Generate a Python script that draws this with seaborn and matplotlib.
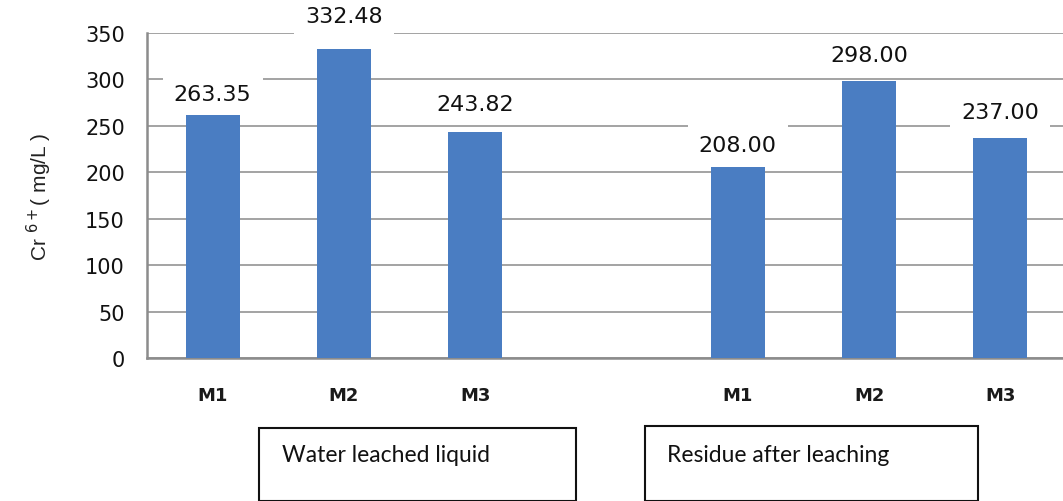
import matplotlib
matplotlib.use("Agg")
import matplotlib.pyplot as plt
from matplotlib.patches import Rectangle
import seaborn as sns
import pandas as pd

# Cr(VI) concentration per sample, for the leachate and for the residue
groups = ["Water leached liquid", "Residue after leaching"]
samples = ["M1", "M2", "M3"]
water_values = [263.35, 332.48, 243.82]
residue_values = [208.00, 298.00, 237.00]
y_ticks = [0, 50, 100, 150, 200, 250, 300, 350]

# vertical gap (points) between each bar top and the centre of its value label
label_gaps = [14, 24, 20, 14, 19, 19]

sns.set_style("white")
plt.rcParams["font.family"] = ["DejaVu Sans"]

rows = []
for g, vals in zip(groups, [water_values, residue_values]):
    for s, v in zip(samples, vals):
        rows.append({"slot": f"{g} {s}", "sample": s, "value": v})
df = pd.DataFrame(rows)

# one empty slot separates the two groups on the category axis
order = [f"{groups[0]} {s}" for s in samples] + ["gap"] + [f"{groups[1]} {s}" for s in samples]
tick_labels = samples + [""] + samples

fig = plt.figure(figsize=(10.63, 5.02), dpi=100)
ax = fig.add_axes([147 / 1063, 143 / 502, 919 / 1063, 325 / 502])

sns.barplot(data=df, x="slot", y="value", order=order, color="#4A7DC2",
            width=0.41, saturation=1, linewidth=0, edgecolor="none",
            ax=ax, zorder=3)

ax.set_ylim(0, 350)
ax.set_xlim(-0.5, len(order) - 0.5)
ax.set_yticks(y_ticks)
ax.set_yticklabels([str(t) for t in y_ticks], fontsize=15, family="DejaVu Sans",
                   color="#111111")
ax.tick_params(axis="y", length=10, width=1.5, color="#8c8c8c", pad=6)

ax.set_xticks(range(len(order)))
ax.set_xticklabels(tick_labels, fontsize=13, fontweight="bold",
                   family="DejaVu Sans", color="#1a1a1a")
ax.tick_params(axis="x", which="major", length=0, pad=20)
ax.set_xticks([i - 0.5 for i in range(len(order) + 1)], minor=True)
ax.tick_params(axis="x", which="minor", length=7, width=1.5, color="#8c8c8c",
               direction="out")

ax.set_xlabel("")
ax.set_ylabel(r"Cr $^{6+}$( mg/L )", fontsize=15, family="Liberation Sans",
              color="#222222", labelpad=22)

ax.yaxis.grid(True, color="#9c9c9c", linewidth=1.3, zorder=0)
ax.set_axisbelow(True)
for side in ["top", "right"]:
    ax.spines[side].set_visible(False)
for side in ["left", "bottom"]:
    ax.spines[side].set_color("#8c8c8c")
    ax.spines[side].set_linewidth(1.8)

# value labels on white boxes above each bar
bars = ax.containers[0]
all_values = water_values + residue_values
for bar, val, gap in zip(bars, all_values, label_gaps):
    ax.annotate(f"{val:.2f}", xy=(bar.get_x() + bar.get_width() / 2, val),
                xytext=(0, gap), textcoords="offset points",
                ha="center", va="center", fontsize=16, family="DejaVu Sans",
                color="#111111",
                bbox=dict(boxstyle="square,pad=0.5", fc="white", ec="none"),
                zorder=5, annotation_clip=False)

# framed group captions below the axis
captions = [
    (groups[0], 259, 576, 429, 282),
    (groups[1], 645, 978, 427, 667),
]
W, H = 1063, 502
for text, x0, x1, ytop, xt in captions:
    fig.patches.append(Rectangle((x0 / W, 0.5 / H), (x1 - x0) / W, (H - ytop - 0.5) / H,
                                 transform=fig.transFigure, fill=False,
                                 edgecolor="#111111", linewidth=1.5))
    fig.text(xt / W, (H - 456) / H, text, fontsize=16.5, family="Lato",
             ha="left", va="center", color="#111111")

fig.savefig("out.png", dpi=100)
